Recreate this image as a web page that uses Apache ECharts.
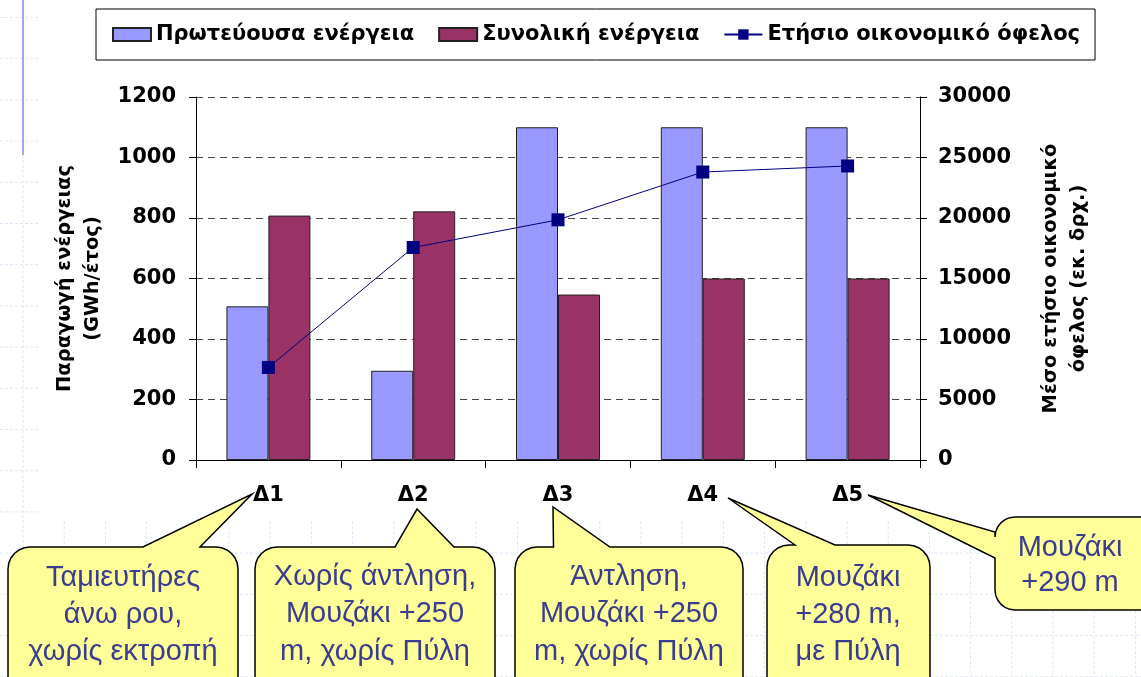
<!DOCTYPE html>
<html>
<head>
<meta charset="utf-8">
<script src="https://cdn.jsdelivr.net/npm/echarts@6/dist/echarts.min.js"></script>
<style>
  html, body { margin: 0; padding: 0; background: #fff; }
  #chart { width: 1141px; height: 677px; }
</style>
</head>
<body>
<div id="chart"></div>
<script>
// data
const categories = ['Δ1', 'Δ2', 'Δ3', 'Δ4', 'Δ5']
const primaryEnergy = [508, 295, 1100, 1100, 1100]      // GWh/έτος
const totalEnergy = [808, 822, 547, 600, 600]           // GWh/έτος
const annualBenefit = [7650, 17560, 19850, 23800, 24300] // εκ. δρχ.
const seriesNames = ['Πρωτεύουσα ενέργεια', 'Συνολική ενέργεια', 'Ετήσιο οικονομικό όφελος']
const calloutTexts = [
    ['Ταμιευτήρες', 'άνω ρου,', 'χωρίς εκτροπή'],
    ['Χωρίς άντληση,', 'Μουζάκι +250', 'm, χωρίς Πύλη'],
    ['Άντληση,', 'Μουζάκι +250', 'm, χωρίς Πύλη'],
    ['Μουζάκι', '+280 m,', 'με Πύλη'],
    ['Μουζάκι', '+290 m']
]

const FONT = "'DejaVu Sans', 'Liberation Sans', sans-serif"
const CALLOUT_FONT = "29px 'Liberation Sans', 'DejaVu Sans', sans-serif"

// quarter circle points for a rounded corner
const corner = (cx, cy, r, a0) => {
    const pts = []
    for (let k = 0; k <= 6; k++) {
        const a = a0 + (Math.PI / 2) * k / 6
        pts.push([cx + r * Math.cos(a), cy + r * Math.sin(a)])
    }
    return pts
}

// speech bubble outline, pointer on the top edge (b1..b2) or the left edge (b1..b2 in y)
const bubble = (x, y, w, h, r, tip, b1, b2, side) => {
    const P = Math.PI
    let pts = []
    pts = pts.concat(corner(x + r, y + r, r, P))           // top-left
    if (side === 'top') pts.push([b1, y], tip, [b2, y])
    pts = pts.concat(corner(x + w - r, y + r, r, -P / 2))  // top-right
    pts = pts.concat(corner(x + w - r, y + h - r, r, 0))   // bottom-right
    pts = pts.concat(corner(x + r, y + h - r, r, P / 2))   // bottom-left
    if (side === 'left') pts.push([x, b2], tip, [x, b1])
    return pts
}

const bubbles = [
    { pts: bubble(8, 547, 230, 160, 22, [252, 494], 143, 200, 'top'), cx: 123, ys: [578, 615, 652] },
    { pts: bubble(255, 547, 240, 160, 22, [417, 509], 395, 454, 'top'), cx: 375, ys: [577, 614, 652] },
    { pts: bubble(515, 547, 228, 160, 22, [553, 507], 553.5, 610, 'top'), cx: 629, ys: [577, 614, 652] },
    { pts: bubble(767, 545, 163, 160, 22, [728, 498], 795, 835, 'top'), cx: 848, ys: [578, 615, 652] },
    { pts: bubble(995, 517, 170, 93, 20, [868, 495], 532, 558, 'left'), cx: 1070, ys: [548, 583] }
]

const graphics = []
const gridStyle = { stroke: '#dfe6f6', lineWidth: 1, lineDash: [3, 2] }

// faint slide grid, only outside the white chart panel
for (let gx = 23; gx < 1141; gx += 41.2) {
    graphics.push({ type: 'line', z: 0, silent: true,
        shape: { x1: gx, y1: gx < 40 ? 0 : 521, x2: gx, y2: 677 }, style: gridStyle })
}
for (let gy = 17.5; gy < 677; gy += 41.2) {
    graphics.push({ type: 'line', z: 0, silent: true,
        shape: { x1: 0, y1: gy, x2: gy < 521 ? 40 : 1141, y2: gy }, style: gridStyle })
}
graphics.push({ type: 'line', z: 1, silent: true,
    shape: { x1: 23, y1: 0, x2: 23, y2: 155 }, style: { stroke: '#9fa8f5', lineWidth: 2 } })

bubbles.forEach((b, i) => {
    graphics.push({ type: 'polygon', z: 50, silent: true,
        shape: { points: b.pts },
        style: { fill: '#ffff99', stroke: '#000', lineWidth: 1.5 } })
    calloutTexts[i].forEach((t, j) => {
        graphics.push({ type: 'text', z: 51, silent: true,
            style: { text: t, x: b.cx, y: b.ys[j], align: 'center', verticalAlign: 'middle',
                font: CALLOUT_FONT, fill: '#3a3d8f' } })
    })
})

const chart = echarts.init(document.getElementById('chart'))

const tickLabel = { fontFamily: FONT, fontWeight: 'bold', fontSize: 21, color: '#000', formatter: v => String(v) }
const nameStyle = { fontFamily: FONT, fontWeight: 'bold', fontSize: 19.5, color: '#000', lineHeight: 28 }

const option = {
    animation: false,
    backgroundColor: 'transparent',
    textStyle: { fontFamily: FONT },
    legend: {
        left: 96,
        top: 9,
        padding: [15, 15, 15, 16],
        itemGap: 24,
        itemWidth: 38,
        itemHeight: 13,
        borderColor: '#000',
        borderWidth: 1,
        backgroundColor: '#fff',
        textStyle: { fontFamily: FONT, fontWeight: 'bold', fontSize: 21, color: '#000' },
        data: [
            { name: seriesNames[0], icon: 'rect' },
            { name: seriesNames[1], icon: 'rect' },
            { name: seriesNames[2] }
        ]
    },
    grid: { left: 196, right: 221, top: 97, bottom: 217, containLabel: false },
    xAxis: {
        type: 'category',
        data: categories,
        axisLine: { lineStyle: { color: '#000', width: 1 } },
        axisTick: { show: true, length: 8, lineStyle: { color: '#000' } },
        axisLabel: { margin: 25, fontFamily: FONT, fontWeight: 'bold', fontSize: 21, color: '#000' }
    },
    yAxis: [
        {
            type: 'value',
            min: 0, max: 1200, interval: 200,
            name: 'Παραγωγή ενέργειας\n(GWh/έτος)',
            nameLocation: 'middle',
            nameRotate: 90,
            nameGap: 86,
            nameTextStyle: nameStyle,
            axisLine: { show: true, lineStyle: { color: '#000', width: 1 } },
            axisTick: { show: true, length: 7, lineStyle: { color: '#000' } },
            axisLabel: Object.assign({ margin: 20 }, tickLabel),
            splitLine: { show: true, lineStyle: { color: '#444', type: [7, 5], width: 1 } }
        },
        {
            type: 'value',
            min: 0, max: 30000, interval: 5000,
            name: 'Μέσο ετήσιο οικονομικό\nόφελος (εκ. δρχ.)',
            nameLocation: 'middle',
            nameRotate: 90,
            nameGap: 117,
            nameTextStyle: nameStyle,
            axisLine: { show: true, lineStyle: { color: '#000', width: 1 } },
            axisTick: { show: true, length: 7, lineStyle: { color: '#000' } },
            axisLabel: Object.assign({ margin: 18 }, tickLabel),
            splitLine: { show: false }
        }
    ],
    series: [
        {
            name: seriesNames[0],
            type: 'bar',
            data: primaryEnergy,
            barGap: '0%',
            barCategoryGap: '42%',
            itemStyle: { color: '#9999ff', borderColor: '#222', borderWidth: 1 }
        },
        {
            name: seriesNames[1],
            type: 'bar',
            data: totalEnergy,
            itemStyle: { color: '#993366', borderColor: '#222', borderWidth: 1 }
        },
        {
            name: seriesNames[2],
            type: 'line',
            yAxisIndex: 1,
            data: annualBenefit,
            symbol: 'rect',
            symbolSize: 13,
            z: 5,
            lineStyle: { color: '#000080', width: 1 },
            itemStyle: { color: '#000080' }
        }
    ],
    graphic: graphics
}

chart.setOption(option)
window.addEventListener('resize', () => chart.resize())
</script>
</body>
</html>
